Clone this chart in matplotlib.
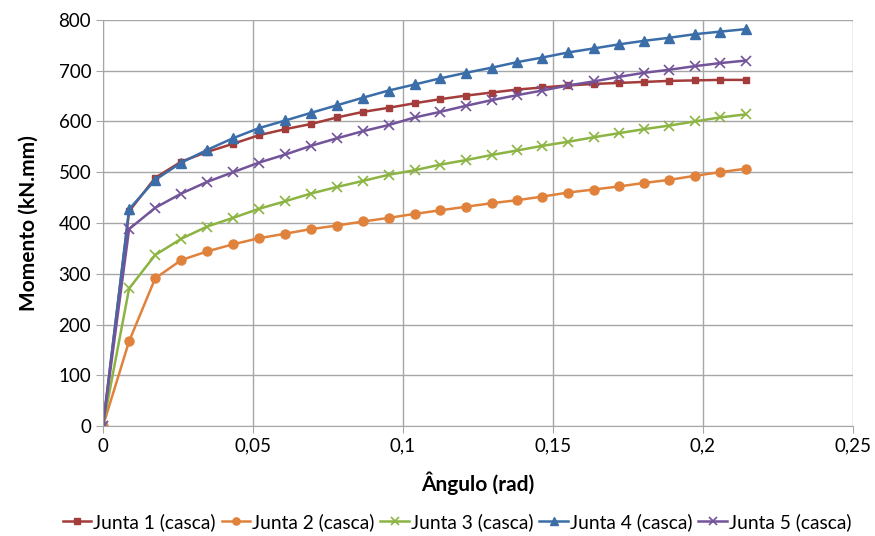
import matplotlib
matplotlib.use("Agg")
import matplotlib.pyplot as plt
from matplotlib.ticker import FuncFormatter

plt.rcParams['font.family'] = ['Lato', 'DejaVu Sans']

# rotation (rad)
angulo = [0, 0.0087, 0.0174, 0.0261, 0.0347, 0.0433, 0.052, 0.0608, 0.0693, 0.078,
          0.0867, 0.0952, 0.1039, 0.1124, 0.121, 0.1295, 0.1381, 0.1464, 0.155,
          0.1636, 0.172, 0.1804, 0.1888, 0.1972, 0.2056, 0.2142]

junta1 = [0, 423, 489, 521, 540, 556, 573, 585, 595, 608, 619, 627, 636, 644, 651,
          657, 663, 667, 671, 674, 676, 678, 680, 681, 682, 682]
junta2 = [0, 167, 291, 327, 344, 358, 370, 379, 388, 395, 403, 410, 418, 425, 432,
          439, 445, 452, 460, 466, 472, 479, 485, 493, 500, 507]
junta3 = [0, 271, 337, 369, 393, 410, 428, 443, 458, 471, 483, 495, 504, 515, 524,
          534, 543, 552, 560, 569, 577, 585, 592, 600, 608, 614]
junta4 = [0, 427, 485, 519, 544, 567, 587, 602, 617, 632, 647, 661, 673, 685, 696,
          706, 717, 726, 736, 744, 752, 759, 765, 772, 777, 782]
junta5 = [0, 388, 430, 458, 481, 500, 519, 535, 552, 567, 581, 593, 608, 619, 631,
          642, 652, 661, 671, 679, 688, 696, 702, 709, 715, 720]

labels = ['Junta 1 (casca)', 'Junta 2 (casca)', 'Junta 3 (casca)',
          'Junta 4 (casca)', 'Junta 5 (casca)']

fig = plt.figure(figsize=(8.75, 5.36), dpi=100)
ax = fig.add_axes([103 / 875, 1 - 426 / 536, 750 / 875, 406 / 536])

ax.plot(angulo, junta1, color='#A33C3A', marker='s', ms=5, lw=1.8, label=labels[0])
ax.plot(angulo, junta2, color='#E0823C', marker='o', ms=6.5, lw=1.8, label=labels[1])
ax.plot(angulo, junta3, color='#8BB443', marker='x', ms=7, mew=1.2, lw=1.8, label=labels[2])
ax.plot(angulo, junta4, color='#3B6EA8', marker='^', ms=7.5, lw=1.8, label=labels[3])
ax.plot(angulo, junta5, color='#73539A', marker='x', ms=7, mew=1.2, lw=1.8, label=labels[4])

ax.set_xlim(0, 0.25)
ax.set_ylim(0, 800)
ax.set_xticks([0, 0.05, 0.1, 0.15, 0.2, 0.25])
ax.set_yticks(range(0, 801, 100))
ax.xaxis.set_major_formatter(FuncFormatter(lambda v, p: ('%g' % round(v, 2)).replace('.', ',')))

ax.grid(True, color='#A6A6A6', lw=1)
ax.set_axisbelow(True)
for s in ['top', 'right']:
    ax.spines[s].set_visible(False)
for s in ['left', 'bottom']:
    ax.spines[s].set_color('#A6A6A6')
ax.tick_params(length=5, color='#A6A6A6', labelsize=13.5, labelcolor='black')

ax.set_xlabel('Ângulo (rad)', fontsize=15, fontweight='bold', labelpad=12)
ax.set_ylabel('Momento (kN.mm)', fontsize=15, fontweight='bold', labelpad=14)

fig.legend(loc='center', bbox_to_anchor=(457 / 875, 1 - 522 / 536), ncol=5, frameon=False,
           fontsize=13.8, handlelength=1.5, handletextpad=0.1, columnspacing=0.3,
           markerscale=0.8, borderaxespad=0)

fig.savefig('out.png', dpi=100)
